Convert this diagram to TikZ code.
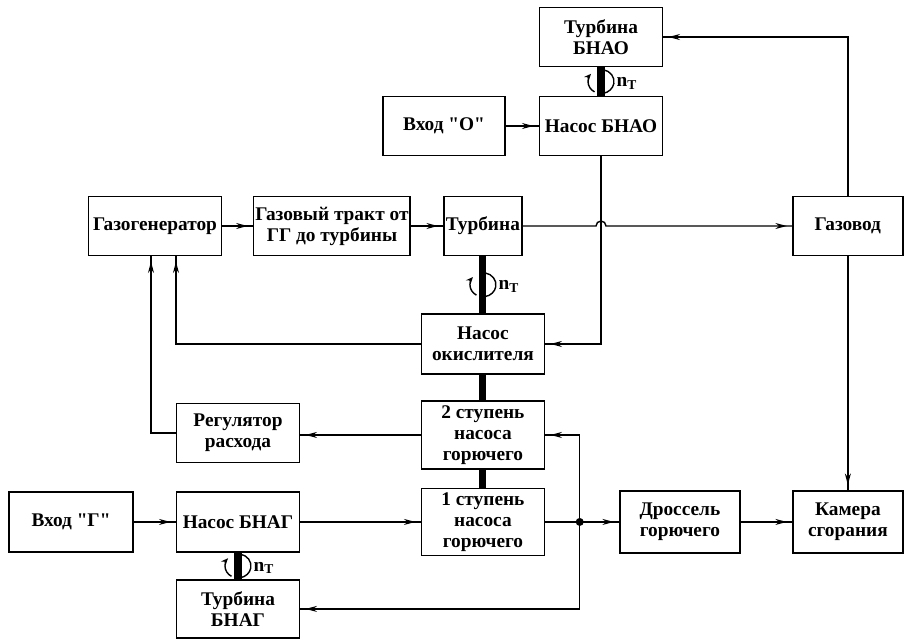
\documentclass[tikz,border=0pt]{standalone}
\usepackage{fontspec}
\setmainfont{Liberation Serif}
\usetikzlibrary{arrows.meta,decorations.markings,calc}

\begin{document}
\begin{tikzpicture}[x=0.02cm, y=-0.02cm, line width=0.8pt,
	blok/.style = {draw, line width=0.9pt, minimum width=24.6mm, minimum height=11.8mm, align=center, inner sep=1pt, font=\bfseries\fontsize{11}{12}\selectfont},
	flow/.style = {postaction={decorate}, decoration={markings, mark=at position -3pt with {\arrow{Stealth[length=6.5pt,width=3.4pt]}}}},
	val/.style = {line width=4pt}]
	\useasboundingbox (0,0) rectangle (905,639);
	%Gas line
	\node[blok, minimum width=26.6mm] (gg) at (155,226) {Газогенератор};
	\node[blok, minimum width=30.6mm] (trakt) [node distance=35.4mm, right of=gg] {Газовый тракт от\\ГГ до турбины};
	\node[blok, minimum width=15.6mm] (turb) [node distance=30.2mm, right of=trakt] {Турбина};
	\node[blok, minimum width=22mm] (gazovod) [node distance=73mm, right of=turb] {Газовод};
	%Oxidizer booster
	\node[blok] (nasBNAO) at (601,126) {Насос БНАО};
	\node[blok] (turbBNAO) [node distance=17.8mm, above of=nasBNAO] {Турбина\\БНАО};
	\node[blok, minimum width=24.4mm] (vhodO) [node distance=31.4mm, left of=nasBNAO] {Вход \textquotedbl О\textquotedbl};
	%Main pumps on the shaft
	\node[blok, minimum height=12mm] (nasOk) [node distance=23.6mm, below of=turb] {Насос\\окислителя};
	\node[blok, minimum height=13.6mm] (st2) [node distance=18.2mm, below of=nasOk] {2 ступень\\насоса\\горючего};
	\node[blok, minimum height=13.4mm] (st1) [node distance=17.4mm, below of=st2] {1 ступень\\насоса\\горючего};
	%Fuel booster
	\node[blok, minimum height=12mm] (nasBNAG) [node distance=49mm, left of=st1] {Насос БНАГ};
	\node[blok, minimum width=24.8mm, minimum height=12mm] (vhodG) [node distance=33.4mm, left of=nasBNAG] {Вход \textquotedbl Г\textquotedbl};
	\node[blok, minimum height=11.6mm] (turbBNAG) [node distance=17.4mm, below of=nasBNAG] {Турбина\\БНАГ};
	\node[blok] (reg) [node distance=17.8mm, above of=nasBNAG] {Регулятор\\расхода};
	%Chamber
	\node[blok, minimum width=24mm, minimum height=12.4mm] (drossel) [node distance=39.4mm, right of=st1] {Дроссель\\горючего};
	\node[blok, minimum width=22mm, minimum height=12.4mm] (kamera) [node distance=33.6mm, right of=drossel] {Камера\\сгорания};

	%Flows
	\draw[flow] (vhodO) -- (nasBNAO); %Vhod O -> BNAO
	\draw[flow] (gg) -- (trakt); %GG -> trakt
	\draw[flow] (trakt) -- (turb); %trakt -> turbina
	\draw[flow] (turb.east) -- ($(turb.east -| nasBNAO.south)+(-1mm,0)$) arc[start angle=180, end angle=0, radius=1mm] -- (gazovod.west); %turbina -> gazovod
	\draw[flow] (gazovod.north) |- (turbBNAO.east); %gazovod -> turbina BNAO
	\draw[flow] (gazovod) -- (kamera); %gazovod -> kamera
	\draw[flow] (nasBNAO.south) |- (nasOk.east); %BNAO -> nasos okislitelya
	\draw[flow] (nasOk.west) -| ([xshift=4.2mm]gg.south); %okislitel -> GG
	\draw[flow] (reg.west) -| ([xshift=-0.8mm]gg.south); %regulyator -> GG
	\draw[flow] (st2.west) -- (st2.west -| reg.east); %2 stupen -> regulyator
	\draw[flow] (vhodG) -- (nasBNAG); %Vhod G -> BNAG
	\draw[flow] (nasBNAG) -- (st1); %BNAG -> 1 stupen

	%Junction after 1 stupen
	\coordinate (uzel) at ([xshift=6.9mm]st1.east);
	\draw (st1.east) -- (uzel);
	\draw[flow] (uzel) -- (drossel); %-> drossel
	\draw[flow] (uzel) |- (st2.east); %-> 2 stupen
	\draw[flow] (uzel) |- (turbBNAG.east); %-> turbina BNAG
	\fill (uzel) circle (0.8mm);
	\draw[flow] (drossel) -- (kamera); %drossel -> kamera

	%Shafts with rotation
	\foreach \verh/\niz/\k in {turbBNAO/nasBNAO/1, turb/nasOk/2, nasBNAG/turbBNAG/3} {
		\coordinate (vr\k) at ($(\verh.south)!0.5!(\niz.north)$);
		\draw[line width=0.8pt] ([shift={(80:2.6mm and 2.4mm)}]vr\k) arc[start angle=80, end angle=-80, x radius=2.6mm, y radius=2.4mm];
		\draw[line width=0.8pt, -{Stealth[length=4pt,width=3.4pt]}] ([shift={(240:2.6mm and 2.4mm)}]vr\k) arc[start angle=240, end angle=140, x radius=2.6mm, y radius=2.4mm];
		\node[anchor=west, inner sep=0pt, font=\bfseries\fontsize{11}{12}\selectfont] (nT\k) at ([xshift=3mm, yshift=-0.4mm]vr\k) {n\textsubscript{T}};
		\draw[val] (\verh) -- (\niz);
	}
	\draw[val] (nasOk) -- (st2);
	\draw[val] (st2) -- (st1);
\end{tikzpicture}
\end{document}
